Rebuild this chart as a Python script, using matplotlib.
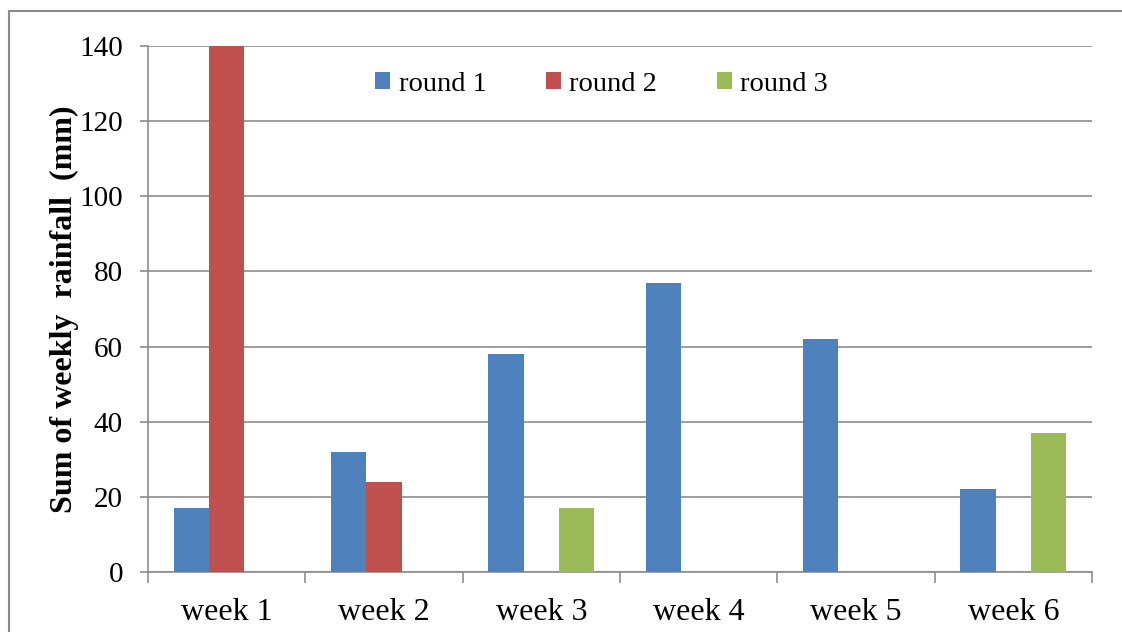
import matplotlib.pyplot as plt
import numpy as np

# Data:

weeks = ['week 1', 'week 2', 'week 3', 'week 4', 'week 5', 'week 6']
round1 = [17, 32, 58, 77, 62, 22]
round2 = [140, 24, 0, 0, 0, 0]
round3 = [0, 0, 17, 0, 0, 37]

# Plotting:

plt.rcParams['font.family'] = 'Liberation Serif'

fig = plt.figure(figsize=(11.22, 6.32), dpi=100)
ax = fig.add_axes([148 / 1122, 60 / 632, 944 / 1122, 526 / 632])

# outer frame: only top and left edges fall inside the picture
top = 1 - 10.5 / 632
left = 8.5 / 1122
fig.add_artist(plt.Line2D([left, 1.0], [top, top], transform=fig.transFigure,
                          color='#8a8a8a', linewidth=1.5))
fig.add_artist(plt.Line2D([left, left], [0, top], transform=fig.transFigure,
                          color='#8a8a8a', linewidth=1.5))

x = np.arange(len(weeks))
w = 0.224
ax.bar(x - w, round1, w, color='#4F81BD', label='round 1', zorder=3)
ax.bar(x, round2, w, color='#C0504D', label='round 2', zorder=3)
ax.bar(x + w, round3, w, color='#9BBB59', label='round 3', zorder=3)

ax.set_xlim(-0.5, 5.5)
ax.set_ylim(0, 140)
ax.set_yticks(np.arange(0, 141, 20))
ax.yaxis.grid(True, color='#8c8c8c', linewidth=1.2, zorder=0)
ax.set_axisbelow(True)

ax.set_xticks(np.arange(-0.5, 6, 1))
ax.set_xticklabels([])
ax.set_xticks(x, minor=True)
ax.set_xticklabels(weeks, minor=True, fontsize=23)
ax.tick_params(axis='x', which='major', length=8, color='#8c8c8c', width=1.2)
ax.tick_params(axis='x', which='minor', length=0, pad=19)
ax.tick_params(axis='y', length=6, color='#8c8c8c', width=1.2, labelsize=21, pad=12)

for s in ['top', 'right']:
    ax.spines[s].set_visible(False)
for s in ['left', 'bottom']:
    ax.spines[s].set_color('#8c8c8c')
    ax.spines[s].set_linewidth(1.2)

ax.set_ylabel('Sum of weekly  rainfall  (mm)', fontsize=23, fontweight='bold', labelpad=0)

ax.legend(loc='upper left', bbox_to_anchor=(201 / 944, 1.0), ncol=3, frameon=False,
          fontsize=20.5, handlelength=0.54, handleheight=0.54, handletextpad=0.3,
          columnspacing=2.08)

plt.savefig('out.png', dpi=100)
